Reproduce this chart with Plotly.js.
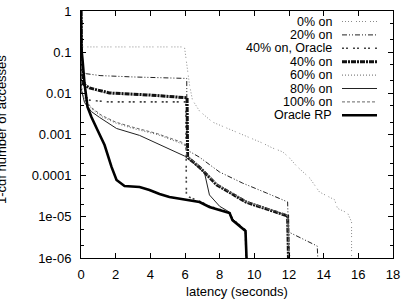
<!DOCTYPE html>
<html>
<head>
<meta charset="utf-8">
<script src="https://cdn.plot.ly/plotly-3.0.1.min.js"></script>
<style>
  html, body { margin: 0; padding: 0; background: #fff; }
  #chart { width: 401px; height: 299px; }
</style>
</head>
<body>
<div id="chart"></div>
<script>
// Latency distribution (1 - CDF of accesses) for different "on" fractions.
const seriesNames = ["0% on", "20% on", "40% on, Oracle", "40% on", "60% on", "80% on", "100% on", "Oracle RP"];

const latency0 = [0, 0.02, 5.97, 6.09, 6.26, 6.43, 6.84, 7.59, 7.99, 8.74, 9.72, 10.47, 11.05, 11.63, 12.03, 12.44, 13.19, 13.76, 14.34, 14.63, 14.80, 15.38, 15.61, 15.61];
const frac0    = [1, 0.134, 0.134, 0.058, 0.016, 0.0069, 0.0037, 0.0020, 0.0017, 0.0013, 0.00087, 0.00062, 0.00047, 0.00038, 0.00027, 0.00017, 8.8e-5, 4.0e-5, 3.0e-5, 2.6e-5, 1.6e-5, 1.24e-5, 7.5e-6, 1e-6];

const latency20 = [0, 0.03, 0.3, 1.1, 3.0, 5.97, 6.1, 6.12, 6.84, 7.99, 9.32, 10.7, 11.92, 11.97, 13.63, 13.66];
const frac20    = [1, 0.034, 0.030, 0.027, 0.025, 0.0232, 0.0230, 0.00042, 0.00028, 0.000123, 6.6e-5, 3.8e-5, 2.3e-5, 4.3e-6, 1.95e-6, 1e-6];

const latency40o = [0, 0.03, 0.5, 1.6, 6.05, 6.08, 6.84, 7.41, 8.57, 8.74, 9.15, 9.49, 9.52];
const frac40o    = [1, 0.0102, 0.0068, 0.0062, 0.0062, 3.2e-5, 2.4e-5, 1.8e-5, 1.3e-5, 8.8e-6, 6.3e-6, 4.8e-6, 1e-6];

const latency40 = [0, 0.03, 0.49, 1.64, 3.95, 5.97, 6.12, 6.15, 6.84, 7.82, 9.55, 11.92, 11.97];
const frac40    = [1, 0.018, 0.0135, 0.0102, 0.0091, 0.0081, 0.0078, 0.00028, 0.00016, 6.0e-5, 2.25e-5, 1.05e-5, 1e-6];

const latency60 = [0, 0.03, 0.2, 0.6, 1.2, 2.0, 3.0, 4.4, 5.8, 6.05, 6.1, 6.84, 7.82, 9.55, 11.92, 12.05];
const frac60    = [1, 0.012, 0.0065, 0.0042, 0.0027, 0.0019, 0.0014, 0.0010, 0.0006, 0.00052, 0.0003, 0.00017, 6.4e-5, 2.4e-5, 1.1e-5, 1e-6];

const latency80 = [0, 0.03, 0.2, 0.6, 1.07, 2.05, 3.38, 4.82, 5.97, 6.5, 7.13, 7.41, 8.0, 8.57, 8.74, 9.15, 9.5, 9.54];
const frac80    = [1, 0.012, 0.006, 0.0036, 0.0026, 0.0014, 0.00095, 0.0005, 0.0003, 0.0002, 0.000115, 3.4e-5, 1.8e-5, 1.3e-5, 9.0e-6, 6.3e-6, 4.7e-6, 1e-6];

const latency100 = [0, 0.03, 0.2, 0.6, 1.2, 2.0, 3.0, 4.4, 5.8, 6.05, 6.1, 6.84, 7.82, 9.55, 11.92, 12.0];
const frac100    = [1, 0.011, 0.0072, 0.0045, 0.0029, 0.0020, 0.0015, 0.00105, 0.00065, 0.00055, 0.00031, 0.000165, 6.2e-5, 2.3e-5, 1.08e-5, 1e-6];

const latencyRP = [0, 0.03, 0.09, 0.2, 0.375, 0.6, 0.95, 1.36, 1.76, 2.05, 2.51, 3.38, 3.95, 4.53, 5.1, 6.09, 6.84, 7.41, 8.57, 8.74, 9.15, 9.49, 9.55];
const fracRP    = [1, 0.113, 0.0645, 0.0178, 0.00467, 0.00266, 0.00129, 0.000556, 0.000163, 7.85e-5, 5.6e-5, 5.3e-5, 4.5e-5, 3.6e-5, 3.03e-5, 2.57e-5, 2.29e-5, 1.74e-5, 1.24e-5, 8.3e-6, 6.0e-6, 4.55e-6, 1e-6];

const xTickVals = [0, 2, 4, 6, 8, 10, 12, 14, 16, 18];
const yTickVals = [1, 0.1, 0.01, 0.001, 0.0001, 1e-5, 1e-6];
const yTickText = ["1", "0.1", "0.01", "0.001", "0.0001", "1e-05", "1e-06"];
const yMinorVals = [0.5, 0.2, 0.05, 0.02, 0.005, 0.002, 5e-4, 2e-4, 5e-5, 2e-5, 5e-6, 2e-6];

const xs = [latency0, latency20, latency40o, latency40, latency60, latency80, latency100, latencyRP];
const ys = [frac0, frac20, frac40o, frac40, frac60, frac80, frac100, fracRP];

// gnuplot-like line styles
const styles = [
  { color: "#8a8a8a", width: 1,   dash: "1px,2px,1px,2px,1px,2px,1px,4px" },
  { color: "#222",    width: 1,   dash: "5px,2px,1px,2px,1px,2px" },
  { color: "#444",    width: 1.6, dash: "2px,2px,2px,5px" },
  { color: "#111",    width: 3,   dash: "5px,1px,2px,1px" },
  { color: "#666",    width: 1,   dash: "1px,2px" },
  { color: "#222",    width: 1,   dash: "solid" },
  { color: "#666",    width: 1,   dash: "3px,2px" },
  { color: "#000",    width: 2.6, dash: "solid" }
];

const FONT = "Liberation Sans, Arial, Helvetica, sans-serif";

const traces = seriesNames.map((name, i) => ({
  type: "scatter",
  mode: "lines",
  name: name,
  x: xs[i],
  y: ys[i],
  line: { color: styles[i].color, width: styles[i].width, dash: styles[i].dash },
  showlegend: false
}));

// key drawn gnuplot-style: right-aligned label, sample line to its right
const plotL = 81, plotR = 393, plotT = 11, plotB = 258;
const keyTextRight = 332.5, keyLineL = 342, keyLineR = 377, keyTop = 21.5, keyStep = 13.4;
const px2x = p => (p - plotL) / (plotR - plotL);
const py2y = p => (plotB - p) / (plotB - plotT);

const annotations = seriesNames.map((name, i) => ({
  xref: "paper", yref: "paper",
  x: px2x(keyTextRight), y: py2y(keyTop + keyStep * i),
  xanchor: "right", yanchor: "middle",
  borderpad: 0,
  text: name, showarrow: false,
  font: { family: FONT, size: 12.5, color: "#000" }
}));
annotations.push({
  xref: "paper", yref: "paper",
  x: px2x(1), y: py2y(130),
  xanchor: "center", yanchor: "middle",
  textangle: -90,
  text: "1-cdf number of accesses", showarrow: false,
  font: { family: FONT, size: 13, color: "#000" }
});

const shapes = seriesNames.map((name, i) => ({
  type: "line", xref: "paper", yref: "paper",
  x0: px2x(keyLineL), x1: px2x(keyLineR),
  y0: py2y(keyTop + keyStep * i), y1: py2y(keyTop + keyStep * i),
  line: { color: styles[i].color, width: styles[i].width, dash: styles[i].dash }
}));

const layout = {
  width: 401, height: 299,
  margin: { l: plotL, r: 401 - plotR, t: plotT, b: 299 - plotB },
  paper_bgcolor: "#fff", plot_bgcolor: "#fff",
  font: { family: FONT, size: 13, color: "#000" },
  xaxis: {
    range: [0, 18],
    tickvals: xTickVals,
    ticks: "inside", ticklen: 5, tickcolor: "#000",
    showline: true, linecolor: "#000", linewidth: 1, mirror: "ticks",
    showgrid: false, zeroline: false,
    ticklabelstandoff: 4,
    tickfont: { family: FONT, size: 13, color: "#000" },
    title: { text: "latency (seconds)", font: { family: FONT, size: 13, color: "#000" }, standoff: 6 }
  },
  yaxis: {
    type: "log",
    range: [-6, 0],
    tickvals: yTickVals, ticktext: yTickText,
    ticks: "inside", ticklen: 5, tickcolor: "#000",
    minor: { tickvals: yMinorVals, ticks: "inside", ticklen: 3, tickcolor: "#000", showgrid: false },
    showline: true, linecolor: "#000", linewidth: 1, mirror: "ticks",
    showgrid: false, zeroline: false,
    ticklabelstandoff: 6,
    tickfont: { family: FONT, size: 13, color: "#000" }
  },
  annotations: annotations,
  shapes: shapes
};

Plotly.newPlot("chart", traces, layout, { staticPlot: true, displayModeBar: false });
</script>
</body>
</html>
